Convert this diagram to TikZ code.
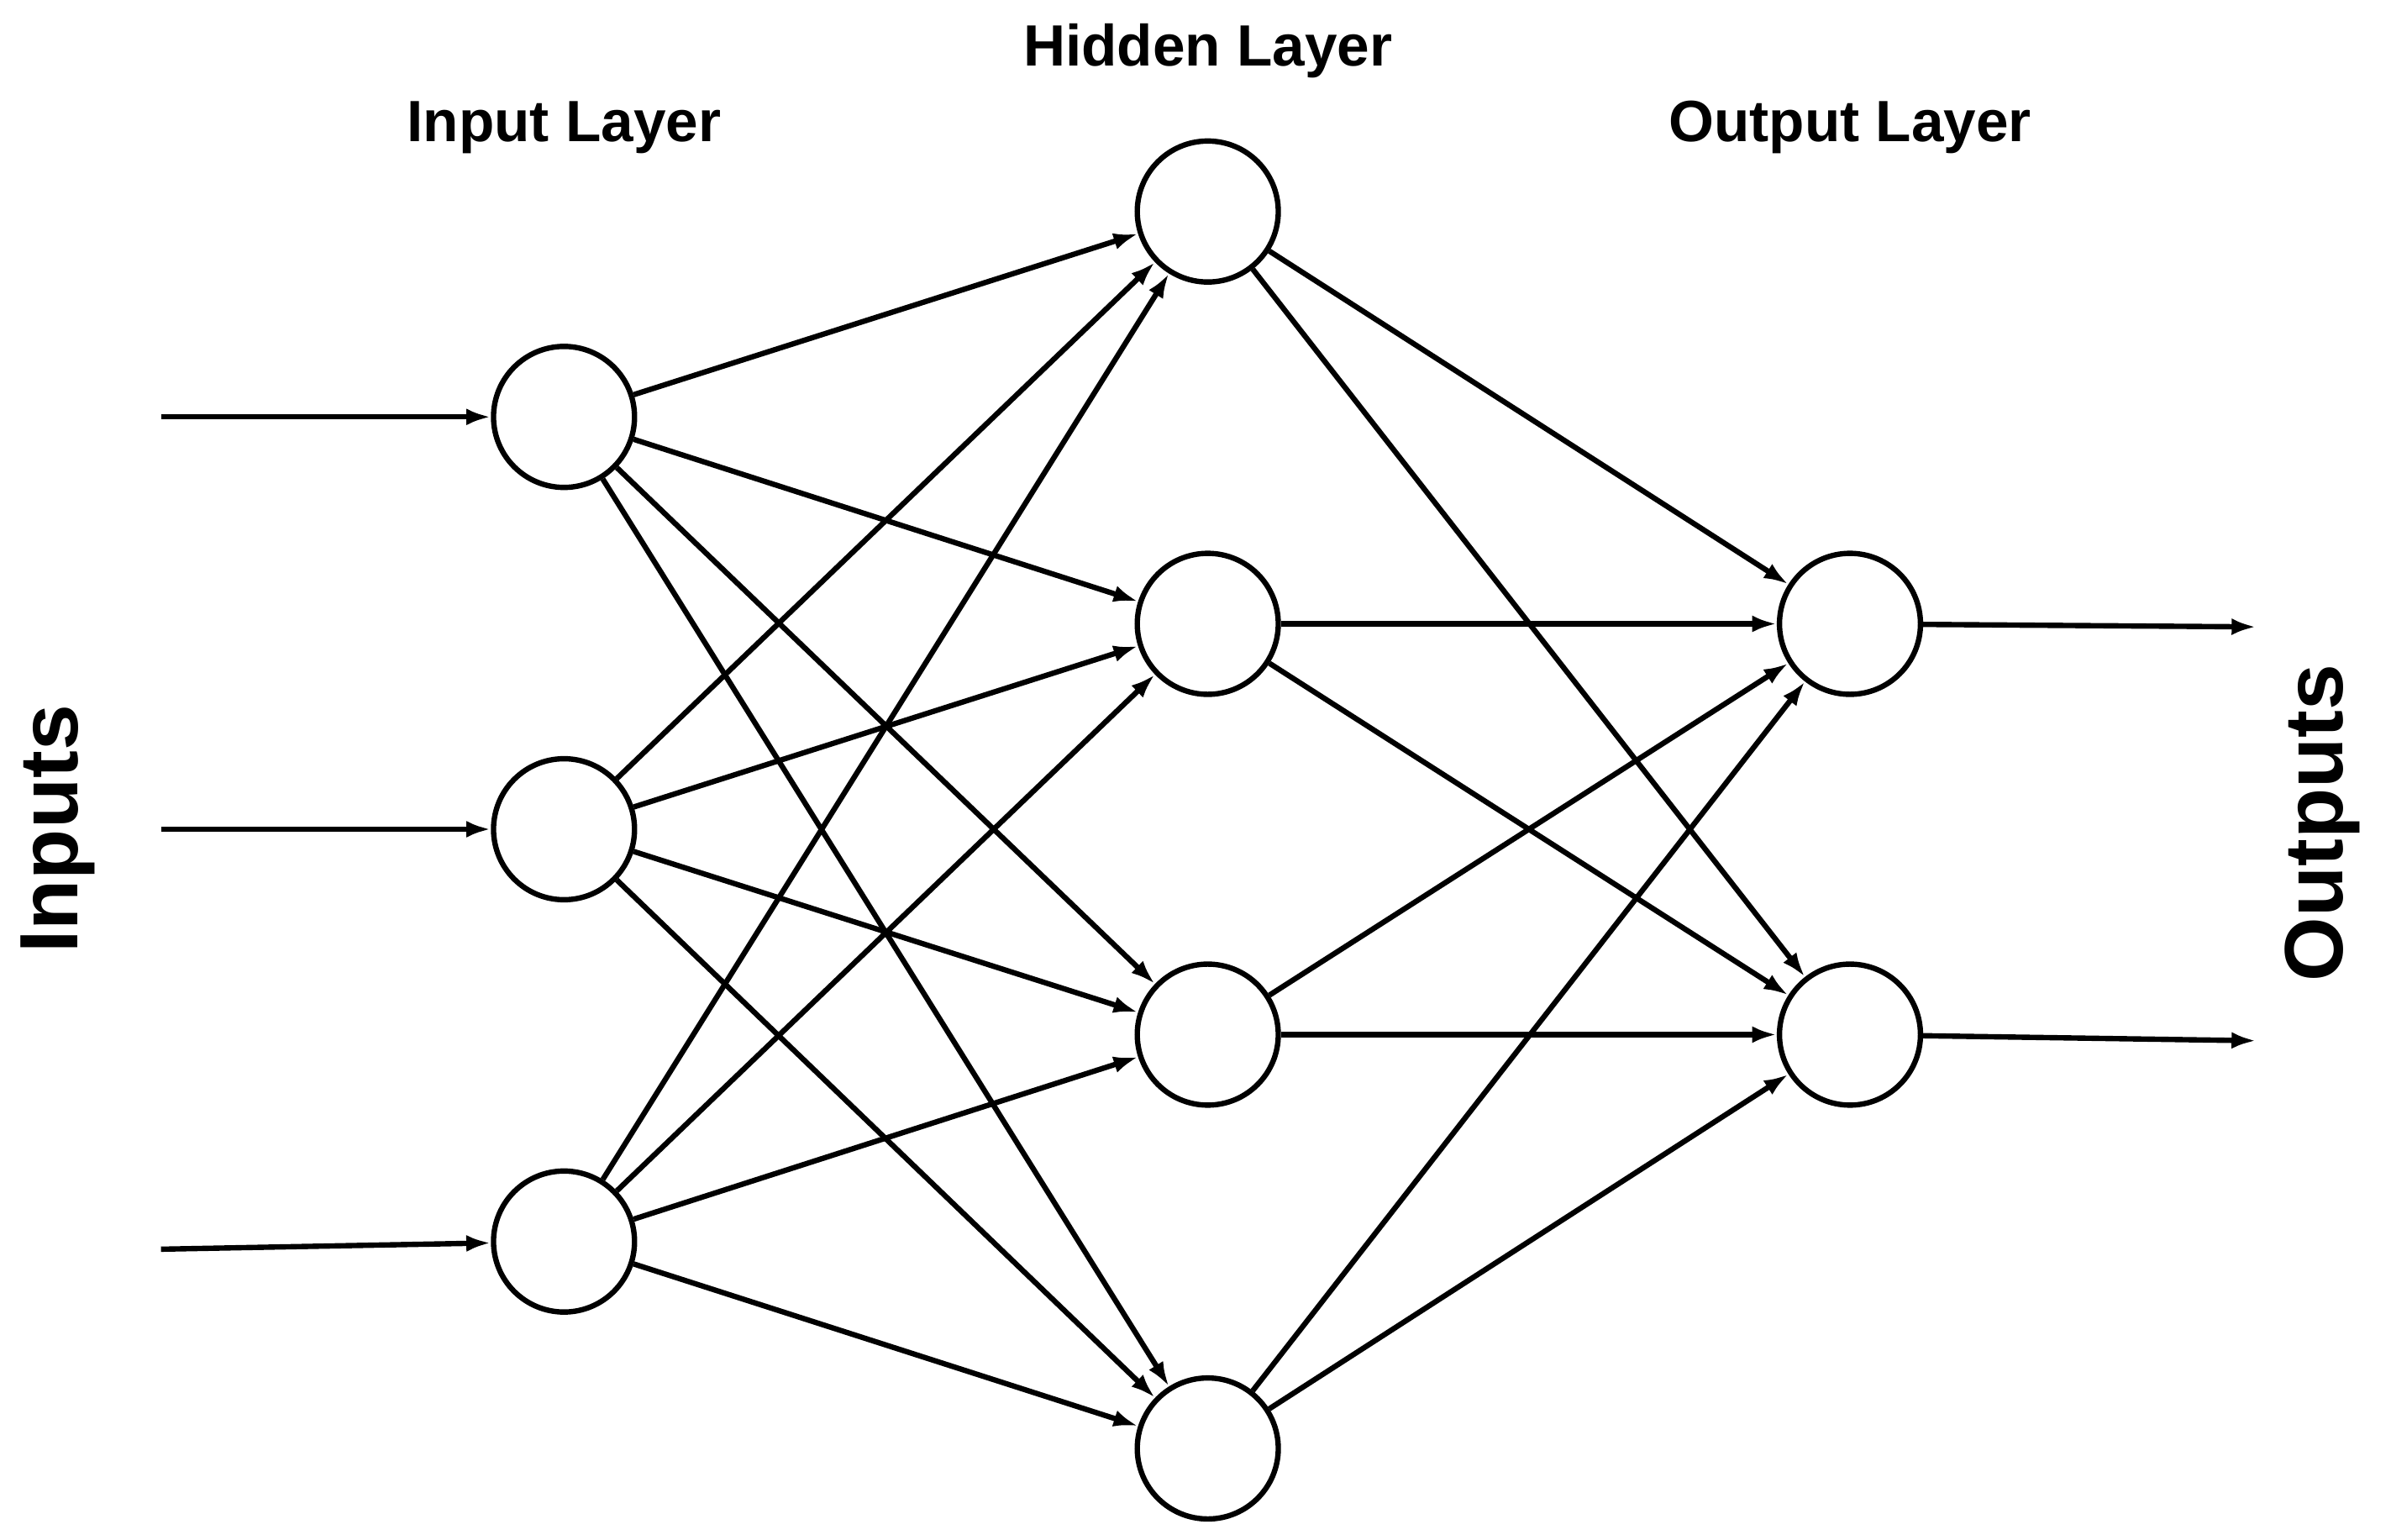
\documentclass[tikz,border=0pt]{standalone}
\usepackage{fontspec}
\setmainfont{Liberation Sans}
\usetikzlibrary{arrows.meta}
\begin{document}
\begin{tikzpicture}[x=1pt,y=-1pt,
  neuron/.style={circle,draw,line width=3.5pt,minimum size=92pt,inner sep=0pt},
  conn/.style={line width=3.5pt,-{Latex[length=16pt,width=11pt]}},
  lbl/.style={font=\bfseries\fontsize{38}{40}\selectfont},
  big/.style={font=\bfseries\fontsize{54}{56}\selectfont,rotate=90}]
\useasboundingbox (0,0) rectangle (1560,1004.7);
\foreach \i/\y in {1/272,2/541,3/810} \node[neuron] (i\i) at (368,\y) {};
\foreach \i/\y in {1/138,2/407,3/675,4/945} \node[neuron] (h\i) at (788,\y) {};
\foreach \i/\y in {1/407,2/675} \node[neuron] (o\i) at (1207,\y) {};
\coordinate (a1) at (105,272); \coordinate (a2) at (105,541); \coordinate (a3) at (105,815);
\coordinate (b1) at (1472,409); \coordinate (b2) at (1472,679);
\foreach \i in {1,2,3} \draw[conn] (a\i) -- (i\i);
\foreach \i in {1,2,3} \foreach \j in {1,2,3,4} \draw[conn] (i\i) -- (h\j);
\foreach \j in {1,2,3,4} \foreach \k in {1,2} \draw[conn] (h\j) -- (o\k);
\foreach \k in {1,2} \draw[conn] (o\k) -- (b\k);
\node[lbl] (t1) at (368,83) {Input Layer};
\node[lbl] (t2) at (788,33) {Hidden Layer};
\node[lbl] (t3) at (1207,83) {Output Layer};
\node[big] (t4) at (38,541) {Inputs};
\node[big] (t5) at (1515,537) {Outputs};
\end{tikzpicture}
\end{document}
